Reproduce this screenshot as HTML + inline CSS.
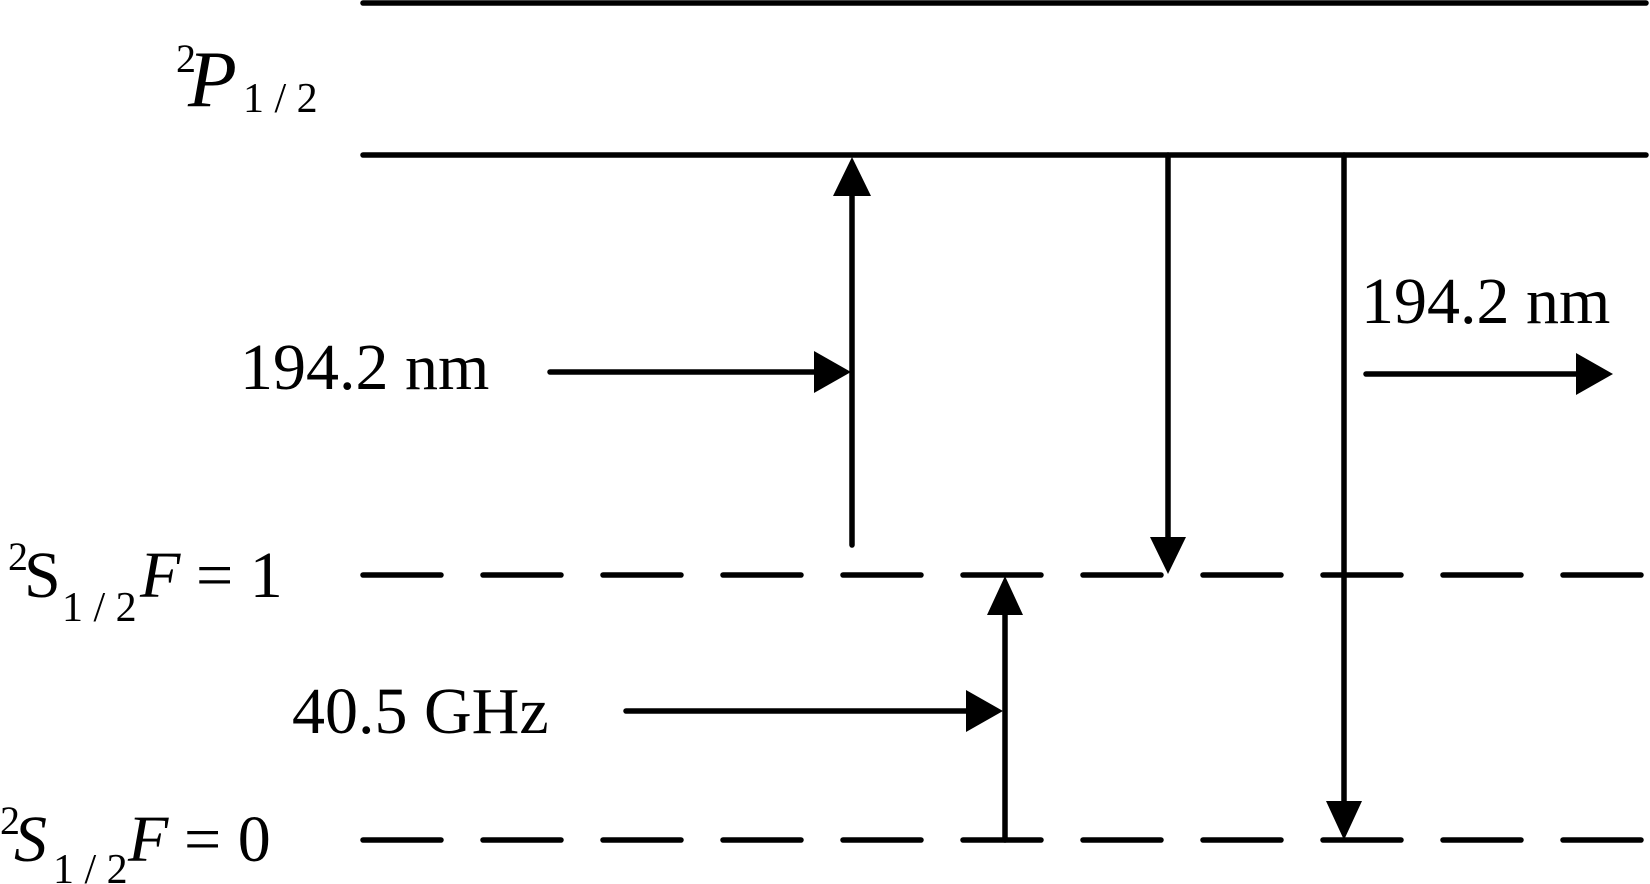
<!DOCTYPE html>
<html><head><meta charset="utf-8"><style>
html,body{margin:0;padding:0;background:#fff;}
svg{display:block;}
text{font-family:"Liberation Serif",serif;fill:#000;}
</style></head><body>
<svg width="1650" height="884" viewBox="0 0 1650 884" xmlns="http://www.w3.org/2000/svg">
<g stroke="#000" stroke-width="5.5" stroke-linecap="round" fill="none">
<line x1="363" y1="3" x2="1646" y2="3"/>
<line x1="363" y1="155" x2="1646" y2="155"/>
<line x1="363" y1="575" x2="1646" y2="575" stroke-dasharray="78 42"/>
<line x1="363" y1="840" x2="1646" y2="840" stroke-dasharray="78 42"/>
<line x1="852" y1="545" x2="852" y2="190"/>
<line x1="1168" y1="155" x2="1168" y2="545"/>
<line x1="1344" y1="155" x2="1344" y2="810"/>
<line x1="550" y1="372" x2="820" y2="372"/>
<line x1="1366" y1="374" x2="1585" y2="374"/>
<line x1="626" y1="711" x2="970" y2="711"/>
<line x1="1005" y1="840" x2="1005" y2="610"/>
</g>
<g fill="#000">
<polygon points="852,157 833,196 871,196"/>
<polygon points="1168,574 1150,537 1186,537"/>
<polygon points="1344,840 1326,801 1362,801"/>
<polygon points="851,372 814,351 814,393"/>
<polygon points="1613,374 1576,353 1576,395"/>
<polygon points="1003,711 966,690 966,732"/>
<polygon points="1005,576 987,615 1023,615"/>
</g>
<text x="176" y="72" font-size="40">2</text>
<text x="188" y="106" font-size="80" font-style="italic">P</text>
<text x="243" y="112" font-size="42">1 / 2</text>
<text x="240" y="389" font-size="66">194.2 nm</text>
<text x="1361" y="323" font-size="66">194.2 nm</text>
<text x="292" y="733" font-size="66">40.5 GHz</text>
<text x="8" y="570" font-size="40">2</text>
<text x="24" y="597" font-size="66">S</text>
<text x="62" y="621" font-size="42">1 / 2</text>
<text x="140" y="597" font-size="66" font-style="italic">F</text>
<text x="196" y="597" font-size="66">= 1</text>
<text x="0" y="834" font-size="40">2</text>
<text x="14" y="861" font-size="66" font-style="italic">S</text>
<text x="53" y="883" font-size="42">1 / 2</text>
<text x="128" y="861" font-size="66" font-style="italic">F</text>
<text x="184" y="861" font-size="66">= 0</text>
</svg>
</body></html>
